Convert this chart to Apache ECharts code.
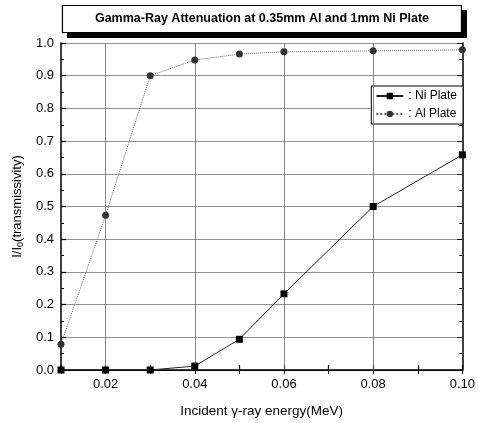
<!DOCTYPE html>
<html><head><meta charset="utf-8">
<script src="https://cdn.jsdelivr.net/npm/echarts@6/dist/echarts.min.js"></script>
<style>html,body{margin:0;padding:0;background:#fff}#c{width:478px;height:423px}</style>
</head><body><div id="c"></div>
<script>
const energy = [0.01, 0.02, 0.03, 0.04, 0.05, 0.06, 0.08, 0.10];
const niPlate = [0.0, 0.0, 0.0, 0.012, 0.094, 0.233, 0.50, 0.658];
const alPlate = [0.079, 0.473, 0.90, 0.948, 0.966, 0.973, 0.976, 0.979];
const xGridTicks = [0.02, 0.04, 0.06, 0.08];
const yTickLabels = ['0.0','0.1','0.2','0.3','0.4','0.5','0.6','0.7','0.8','0.9','1.0'];
const titleText = 'Gamma-Ray Attenuation at 0.35mm Al and 1mm Ni Plate';

const chart = echarts.init(document.getElementById('c'), null, {renderer:'canvas'});
const font = 'Liberation Sans, Arial, sans-serif';
const titleFont = 'bold 12.5px Liberation Sans, Arial, sans-serif';
const mctx = document.createElement('canvas').getContext('2d');
mctx.font = titleFont;
const tw = mctx.measureText(titleText).width;
const padH = Math.max(4, (400 - tw) / 2);
chart.setOption({
  animation:false,
  backgroundColor:'#fff',
  title:[{
    text:titleText, left:62, top:5, padding:[7, padH, 7, padH],
    backgroundColor:'#fff', borderWidth:0,
    shadowColor:'#000', shadowOffsetX:5, shadowOffsetY:5, shadowBlur:0,
    textStyle:{fontFamily:font, fontWeight:'bold', fontSize:12.5, color:'transparent', lineHeight:14}
  },{
    text:titleText, left:62, top:5, padding:[7, padH, 7, padH],
    borderColor:'#000', borderWidth:1.2,
    textStyle:{fontFamily:font, fontWeight:'bold', fontSize:12.5, color:'#000', lineHeight:14}
  }],
  grid:{left:61, right:12, top:43, bottom:52},
  legend:{
    orient:'vertical', right:15, top:86, padding:[4,6,4,4],
    borderColor:'#000', borderWidth:1, backgroundColor:'#fff',
    itemWidth:27, itemHeight:8, itemGap:6,
    textStyle:{fontFamily:font, fontSize:12, color:'#000'},
    formatter: n => ': ' + n,
    data:['Ni Plate','Al Plate']
  },
  xAxis:[{
    type:'value', min:0.01, max:0.1, interval:0.01,
    name:'Incident \u03b3-ray energy(MeV)', nameLocation:'middle', nameGap:34,
    nameTextStyle:{fontFamily:font, fontSize:13.5, color:'#000'},
    axisLine:{onZero:false, lineStyle:{color:'#000', width:1.5}},
    axisTick:{inside:true, length:5, lineStyle:{color:'#000', width:1.2}},
    axisLabel:{fontFamily:font, fontSize:13, color:'#000', margin:8,
      formatter: v => { const k = Math.round(v*100); return (k%2===0 && k>0) ? (k/100).toFixed(2) : ''; }},
    splitLine:{show:false}
  },{
    type:'value', min:0.01, max:0.1, interval:0.01, position:'top',
    axisLine:{lineStyle:{color:'#000', width:1}}, axisTick:{inside:true, length:4, lineStyle:{color:'#000'}},
    axisLabel:{show:false}, splitLine:{show:false}
  }],
  yAxis:[{
    type:'value', min:0, max:1, interval:0.1,
    name:'I/I{sub|0}(transmissivity)', nameLocation:'middle', nameGap:34,
    nameTextStyle:{fontFamily:font, fontSize:13, color:'#000', rich:{sub:{fontFamily:font, fontSize:9, verticalAlign:'bottom', padding:[6,0,0,0]}}},
    axisLine:{lineStyle:{color:'#000', width:1.5}},
    axisTick:{inside:true, length:5, lineStyle:{color:'#000', width:1.2}},
    minorTick:{show:true, splitNumber:2, length:3, lineStyle:{color:'#000'}},
    axisLabel:{fontFamily:font, fontSize:13, color:'#000', margin:7, formatter:(v)=>yTickLabels[Math.round(v*10)]},
    splitLine:{show:true, lineStyle:{color:'#777', width:0.8}}
  },{
    type:'value', min:0, max:1, interval:0.1, position:'right',
    axisLine:{show:true, lineStyle:{color:'#000', width:1.5}},
    axisTick:{inside:true, length:5, lineStyle:{color:'#000'}},
    minorTick:{show:true, splitNumber:2, length:3, lineStyle:{color:'#000'}},
    axisLabel:{show:false}, splitLine:{show:false}
  }],
  series:[{
    name:'Ni Plate', type:'line', data:energy.map((e,i)=>[e,niPlate[i]]),
    symbol:'rect', symbolSize:7, itemStyle:{color:'#000'},
    lineStyle:{color:'#222', width:1}, z:5,
    markLine:{silent:true, symbol:'none', label:{show:false},
      lineStyle:{color:'#666', width:0.8, type:'solid'},
      data: xGridTicks.map(v=>({xAxis:v}))}
  },{
    name:'Al Plate', type:'line', data:energy.map((e,i)=>[e,alPlate[i]]),
    symbol:'circle', symbolSize:7, itemStyle:{color:'#333'},
    lineStyle:{color:'#666', width:1, type:'dotted'}, z:5
  }]
});
</script></body></html>
